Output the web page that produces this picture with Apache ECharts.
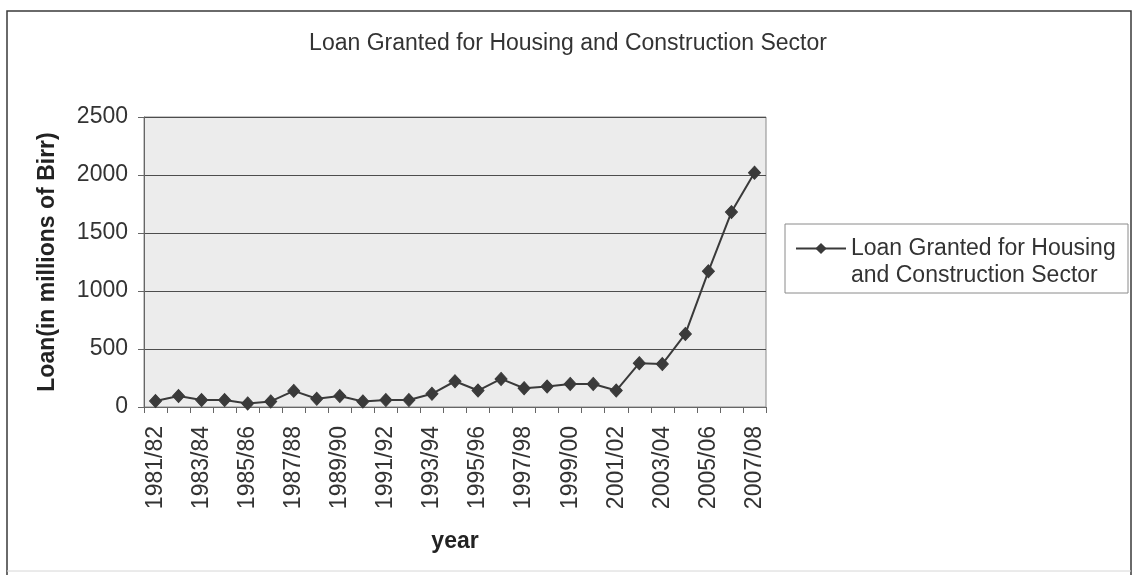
<!DOCTYPE html>
<html>
<head>
<meta charset="utf-8">
<title>Loan Granted for Housing and Construction Sector</title>
<script src="https://cdn.jsdelivr.net/npm/echarts@6/dist/echarts.min.js"></script>
<style>
  html, body { margin: 0; padding: 0; background: #ffffff; }
  #chart { width: 1139px; height: 575px; }
</style>
</head>
<body>
<div id="chart"></div>
<script>
// Fiscal years (Ethiopian fiscal year notation)
const years = [
  '1981/82', '1982/83', '1983/84', '1984/85', '1985/86', '1986/87', '1987/88',
  '1988/89', '1989/90', '1990/91', '1991/92', '1992/93', '1993/94', '1994/95',
  '1995/96', '1996/97', '1997/98', '1998/99', '1999/00', '2000/01', '2001/02',
  '2002/03', '2003/04', '2004/05', '2005/06', '2006/07', '2007/08'
];

// Loan granted, millions of Birr
const loanValues = [
  51, 94, 60, 60, 31, 48, 139,
  71, 94, 48, 60, 60, 114, 222,
  142, 242, 162, 176, 199, 199, 142,
  378, 370, 630, 1170, 1680, 2020
];

const seriesName = 'Loan Granted for Housing and Construction Sector';
const yTicks = { min: 0, max: 2500, step: 500 };

const FONT = '"Liberation Sans", Arial, Helvetica, sans-serif';
const TEXT = '#333333';

const chart = echarts.init(document.getElementById('chart'), null, { renderer: 'canvas' });

chart.setOption({
  backgroundColor: '#ffffff',
  animation: false,
  textStyle: { fontFamily: FONT, color: TEXT },
  title: {
    text: seriesName,
    left: 563,
    textAlign: 'center',
    top: 27,
    textStyle: { fontFamily: FONT, fontSize: 23, fontWeight: 'normal', color: TEXT }
  },
  grid: {
    left: 144,
    top: 117,
    width: 622,
    height: 290,
    containLabel: false,
    outerBoundsMode: 'none',
    show: true,
    backgroundColor: '#ececec',
    borderColor: '#8a8a8a',
    borderWidth: 1
  },
  legend: {
    left: 795,
    top: 208,
    padding: 0,
    itemWidth: 50,
    itemHeight: 14,
    itemGap: 0,
    selectedMode: false,
    data: [seriesName],
    // leading blank line keeps the icon level with the first text line
    formatter: function () {
      return '\nLoan Granted for Housing\nand Construction Sector';
    },
    textStyle: {
      fontFamily: FONT,
      fontSize: 23,
      lineHeight: 27,
      color: TEXT
    }
  },
  xAxis: {
    type: 'category',
    data: years,
    boundaryGap: true,
    name: 'year',
    nameLocation: 'middle',
    nameGap: 123,
    nameTextStyle: { fontFamily: FONT, fontSize: 23, fontWeight: 'bold', color: '#222' },
    axisLine: { show: true, lineStyle: { color: '#666', width: 1 } },
    axisTick: { show: true, interval: 0, length: 6, inside: false, lineStyle: { color: '#666' } },
    axisLabel: {
      interval: 1,
      rotate: 90,
      margin: 19,
      fontFamily: FONT,
      fontSize: 23,
      color: TEXT
    },
    splitLine: { show: false }
  },
  yAxis: {
    type: 'value',
    min: yTicks.min,
    max: yTicks.max,
    interval: yTicks.step,
    name: 'Loan(in millions of Birr)',
    nameLocation: 'middle',
    nameGap: 85,
    nameTextStyle: { fontFamily: FONT, fontSize: 23, fontWeight: 'bold', color: '#222' },
    axisLine: { show: true, lineStyle: { color: '#666', width: 1 } },
    axisTick: { show: true, length: 6, lineStyle: { color: '#666' } },
    axisLabel: {
      margin: 16, fontFamily: FONT, fontSize: 23, color: TEXT,
      formatter: function (v) { return String(v); }
    },
    splitLine: { show: true, lineStyle: { color: '#4d4d4d', width: 1 } }
  },
  series: [{
    name: seriesName,
    type: 'line',
    data: loanValues,
    symbol: 'diamond',
    symbolSize: [12, 13],
    showAllSymbol: true,
    lineStyle: { color: '#3a3a3a', width: 2 },
    itemStyle: { color: '#3a3a3a', borderColor: '#3a3a3a' }
  }],
  graphic: [
    // chart frame
    { type: 'polyline', shape: { points: [[7, 575], [7, 11], [1131, 11], [1131, 575]] },
      style: { stroke: '#3a3a3a', lineWidth: 1.5, fill: null }, silent: true },
    { type: 'line', shape: { x1: 7, y1: 571, x2: 1131, y2: 571 },
      style: { stroke: '#d6d6d6', lineWidth: 1 }, silent: true },
    // legend box
    { type: 'rect', shape: { x: 785, y: 224, width: 343, height: 69 },
      style: { stroke: '#8a8a8a', lineWidth: 1, fill: null }, silent: true }
  ]
});
</script>
</body>
</html>
